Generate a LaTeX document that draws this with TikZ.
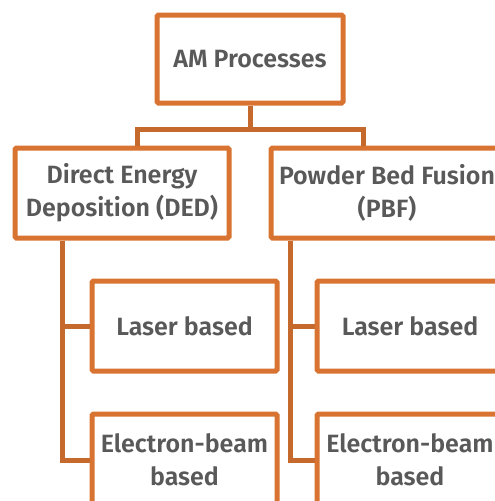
\documentclass[tikz,border=0pt]{standalone}
\usepackage{fontspec}
\setmainfont{Fira Sans}[BoldFont={Fira Sans SemiBold}]
\usepackage{tikz}
\usetikzlibrary{positioning}
\definecolor{amorange}{HTML}{D87331}
\definecolor{amline}{HTML}{C6692D}
\definecolor{amtext}{HTML}{595959}
\tikzset{
    every node/.style={inner sep=2pt},
    box/.style={draw=amorange, line width=5pt, rounded corners=1.5pt, fill=white,
        text=amtext, align=center, font=\bfseries\fontsize{25}{33}\selectfont},
    conn/.style={draw=amline, line width=5pt}
}

\begin{document}
\begin{tikzpicture}[x=1pt, y=-1pt]
                \useasboundingbox (0,0) rectangle (495,501);
                \clip (0,0) rectangle (495,501);

                \node[box, minimum width=186pt, minimum height=88pt] (am) at (250,59) {AM Processes};
                \node[box, minimum width=214pt, minimum height=90pt] (ded) at (122,193) {Direct Energy\\Deposition (DED)};
                \node[box, minimum width=232pt, minimum height=90pt] (pbf) at (387,193) {Powder Bed Fusion\\(PBF)};

                \node[box, minimum width=185pt, minimum height=90pt] (dlaser) at (184.5,326) {Laser based};
                \node[box, minimum width=185pt, minimum height=92pt] (debeam) at (184.5,460) {Electron-beam\\based};
                \node[box, minimum width=186pt, minimum height=90pt] (plaser) at (410,326) {Laser based};
                \node[box, minimum width=186pt, minimum height=92pt] (pebeam) at (410,460) {Electron-beam\\based};

                % top level
                \draw[conn] (am.south) -- ++(0,24) -| ([xshift=15pt]ded.north);
                \draw[conn] (am.south) -- ++(0,24) -| ([xshift=-24pt]pbf.north);

                % DED branch
                \draw[conn] ([xshift=-60pt]ded.south) |- (dlaser.west);
                \draw[conn] ([xshift=-60pt]ded.south) |- (debeam.west);

                % PBF branch
                \draw[conn] ([xshift=-97pt]pbf.south) |- (plaser.west);
                \draw[conn] ([xshift=-97pt]pbf.south) |- (pebeam.west);
            \end{tikzpicture}
\end{document}
